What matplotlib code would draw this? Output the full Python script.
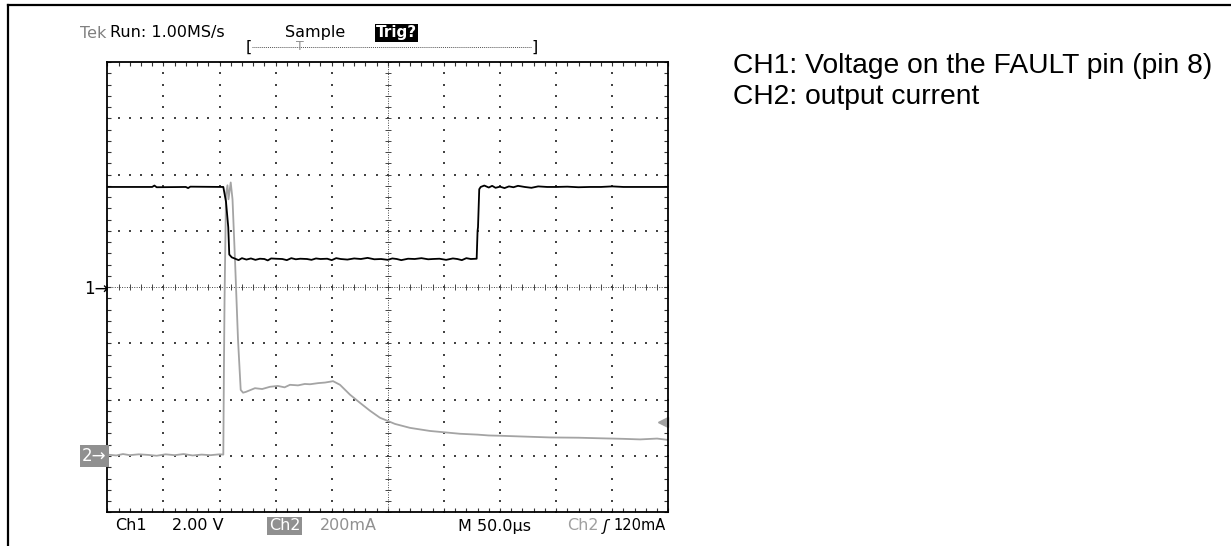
import numpy as np
import matplotlib
matplotlib.use("Agg")
import matplotlib.pyplot as plt
from matplotlib.lines import Line2D

# scope settings
t_per_div = 50.0      # us/div
ch1_v_per_div = 2.0   # V/div
ch2_ma_per_div = 200.0  # mA/div
ch1_ground_div = 0.0
ch2_ground_div = -3.0
trig_level_ma = 120.0

# CH1: voltage on FAULT pin (V) vs time (us)
ch1_t = [0, 40, 42, 44, 70, 72, 74, 103.4, 105.8, 107.8, 108.7, 110.9,
         114, 117, 120, 124, 128, 132, 136, 140, 143, 146, 150, 156, 160, 164, 168, 172,
         178, 182, 186, 190, 196, 200, 204, 208, 214, 220, 226, 232, 238, 244, 250, 254,
         258, 262, 268, 274, 280, 286, 290, 296, 302, 308, 312, 316, 320, 324, 329.2,
         330, 330.4, 331.5, 332.8, 336, 340, 343, 346, 350, 354, 358, 362, 366, 372, 378,
         384, 392, 400, 410, 420, 430, 440, 450, 460, 470, 480, 490, 500]
ch1_v = [3.56, 3.56, 3.61, 3.55, 3.56, 3.52, 3.57, 3.56, 3.03, 2.13, 1.16, 1.06,
         1.01, 0.96, 1.03, 0.98, 1.02, 0.97, 1.01, 1.00, 0.95, 1.02, 1.01, 1.00, 0.96, 1.03, 0.99, 1.01,
         1.00, 0.97, 1.02, 1.00, 1.01, 0.96, 1.03, 1.00, 0.98, 1.02, 1.00, 1.04, 0.99, 1.00, 0.97, 1.02,
         1.00, 0.96, 1.01, 1.00, 1.03, 0.99, 1.00, 1.01, 0.97, 1.02, 1.00, 0.96, 1.03, 1.00, 1.01,
         2.00, 2.13, 3.48, 3.56, 3.61, 3.54, 3.60, 3.53, 3.57, 3.52, 3.58, 3.55, 3.60, 3.56, 3.53,
         3.58, 3.56, 3.56, 3.57, 3.55, 3.56, 3.56, 3.58, 3.56, 3.56, 3.56, 3.56, 3.56]

# CH2: output current (mA) vs time (us)
ch2_t = [0, 8, 14, 20, 28, 36, 44, 52, 60, 68, 76, 84, 92, 100, 103.4,
         103.9, 104.5, 105.8, 107.1, 108, 110, 111.6, 113.8, 116.5, 118.9, 121, 123.6,
         131.6, 138, 145, 152, 158, 162.8, 170, 176, 180.7, 188, 194, 198.5, 201.2,
         207.4, 216.3, 225.2, 234.1, 243, 256.4, 269.8, 287.6, 314.4, 330, 340, 350,
         372, 394.6, 420, 439.2, 460, 474.9, 490, 500]
ch2_ma = [5, 2, 7, 3, 6, 4, 1, 6, 3, 7, 2, 5, 3, 6, 5,
          289, 556, 930, 962, 912, 972, 912, 698, 413, 235, 225, 228,
          241, 238, 246, 249, 244, 253, 251, 256, 255, 259, 261, 264, 266,
          253, 218, 189, 161, 136, 114, 100, 89, 79, 76, 73, 72,
          69, 66, 65, 63, 61, 59, 62, 57]

W, H = 1231, 546


def fx(x):
    return x / W


def fy(y):
    return 1 - y / H


fig = plt.figure(figsize=(W / 100, H / 100), dpi=100)
fig.patch.set_facecolor("white")

# graticule area in pixels
left, right, top, bottom = 107.3, 668.3, 62.0, 512.3
ax = fig.add_axes([fx(left), fy(bottom), (right - left) / W, (bottom - top) / H])
ax.set_xlim(0, 10 * t_per_div)
ax.set_ylim(-4, 4)
for s in ax.spines.values():
    s.set_linewidth(1.3)
    s.set_color("black")

ax.set_xticks([])
ax.set_yticks([])
ax.set_xticks(np.arange(0, 10 * t_per_div + 1, t_per_div / 5), minor=True)
ax.set_yticks(np.arange(-4, 4.01, 0.2), minor=True)
ax.tick_params(which="minor", direction="in", length=3, width=0.8, color="#333333",
               top=True, right=True, labelbottom=False, labelleft=False)

gc = "#444444"
# dotted division lines
ydots = np.arange(-4, 4.01, 0.2)
xdots = np.arange(0, 10 * t_per_div + 0.1, t_per_div / 5)
for k in range(1, 10):
    if k == 5:
        continue
    ax.scatter(np.full(len(ydots), k * t_per_div), ydots, s=0.9, marker="s", c=gc, lw=0)
for k in range(-3, 4):
    if k == 0:
        continue
    ax.scatter(xdots, np.full(len(xdots), k), s=0.9, marker="s", c=gc, lw=0)

# center lines with small ticks
cx = 5 * t_per_div
ax.axhline(0, color=gc, lw=0.7, ls=(0, (1, 1.5)))
ax.axvline(cx, color=gc, lw=0.7, ls=(0, (1, 1.5)))
ax.plot(xdots, np.zeros(len(xdots)), ls="none", marker="|", ms=5, mew=0.7, color=gc)
ax.plot(np.full(len(ydots), cx), ydots, ls="none", marker="_", ms=5, mew=0.7, color=gc)

# traces
ch2_div = np.array(ch2_ma) / ch2_ma_per_div + ch2_ground_div
ch1_div = np.array(ch1_v) / ch1_v_per_div + ch1_ground_div
ax.plot(ch2_t, ch2_div, color="#a4a4a4", lw=1.3)
ax.plot(ch1_t, ch1_div, color="black", lw=1.3)

# trigger level arrow
trig_div = trig_level_ma / ch2_ma_per_div + ch2_ground_div
ax.plot(10 * t_per_div - 5, trig_div, marker="<", ms=7, color="#a0a0a0",
        mec="#a0a0a0", clip_on=False)

# channel ground markers
fs = 11.5
fig.text(fx(84), fy(289), "1\u2192", fontsize=12, va="center", ha="left",
         family="DejaVu Sans", color="black")
y2 = top + (4 - ch2_ground_div) * (bottom - top) / 8
fig.text(fx(82), fy(y2), "2\u2192", fontsize=12, va="center", ha="left",
         family="DejaVu Sans", color="white",
         bbox=dict(boxstyle="square,pad=0.12", fc="#909090", ec="none"))

# header
fig.text(fx(80), fy(33), "Tek", fontsize=fs, va="center", color="#808080", family="DejaVu Sans")
fig.text(fx(110), fy(33), "Run: 1.00MS/s", fontsize=fs, va="center", color="black", family="DejaVu Sans")
fig.text(fx(285), fy(33), "Sample", fontsize=fs, va="center", color="black", family="DejaVu Sans")
fig.text(fx(376), fy(33), "Trig?", fontsize=fs - 0.5, va="center", color="white", weight="bold",
         family="DejaVu Sans", bbox=dict(boxstyle="square,pad=0.08", fc="black", ec="none"))
fig.text(fx(246), fy(47), "[", fontsize=fs, va="center", color="black", family="DejaVu Sans")
fig.text(fx(531), fy(47), "]", fontsize=fs, va="center", color="black", family="DejaVu Sans")
fig.add_artist(Line2D([fx(252), fx(531)], [fy(47), fy(47)], color="#555555", lw=0.7,
                      ls=(0, (1, 1))))
fig.text(fx(300), fy(46), "T", fontsize=9, va="center", ha="center", color="#909090",
         family="DejaVu Sans")

# footer
fy_f = 526
fig.text(fx(115), fy(fy_f), "Ch1", fontsize=fs, va="center", family="DejaVu Sans")
fig.text(fx(172), fy(fy_f), "2.00 V", fontsize=fs, va="center", family="DejaVu Sans")
fig.text(fx(269), fy(fy_f), "Ch2", fontsize=fs, va="center", color="white", family="DejaVu Sans",
         bbox=dict(boxstyle="square,pad=0.1", fc="#909090", ec="none"))
fig.text(fx(320), fy(fy_f), "200mA", fontsize=fs, va="center", color="#909090", family="DejaVu Sans")
fig.text(fx(458), fy(fy_f), "M 50.0\u00b5s", fontsize=fs, va="center", family="DejaVu Sans")
fig.text(fx(567), fy(fy_f), "Ch2", fontsize=fs, va="center", color="#a0a0a0", family="DejaVu Sans")
fig.text(fx(603), fy(fy_f), "\u0283", fontsize=fs, va="center", family="DejaVu Sans", style="italic")
fig.text(fx(666), fy(fy_f), "120mA", fontsize=10.5, va="center", ha="right", family="DejaVu Sans")

# outer frame (top and left only)
fig.add_artist(Line2D([fx(8), 1], [fy(5), fy(5)], color="black", lw=1.6))
fig.add_artist(Line2D([fx(8), fx(8)], [fy(5), 0], color="black", lw=1.6))

# channel notes
fig.text(fx(733), fy(66), "CH1: Voltage on the FAULT pin (pin 8)", fontsize=20.3,
         va="center", family="Liberation Sans")
fig.text(fx(733), fy(97), "CH2: output current", fontsize=20.3,
         va="center", family="Liberation Sans")

fig.savefig("out.png", dpi=100)
